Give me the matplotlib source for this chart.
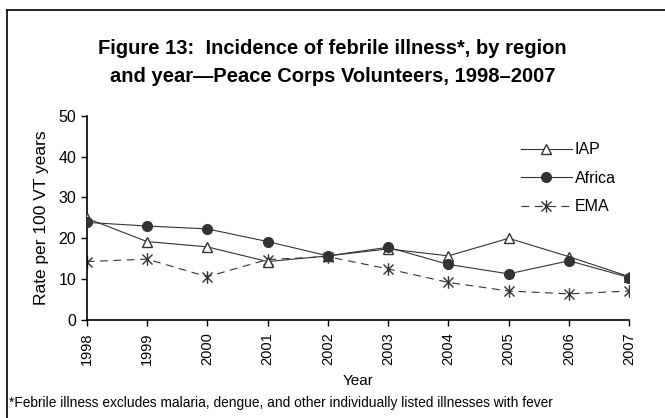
import matplotlib
matplotlib.use("Agg")
import matplotlib.pyplot as plt
from matplotlib.path import Path
from matplotlib.lines import Line2D

years = [1998, 1999, 2000, 2001, 2002, 2003, 2004, 2005, 2006, 2007]
iap = [24.9, 19.2, 17.9, 14.3, 15.7, 17.4, 15.7, 20.0, 15.5, 10.6]
africa = [23.9, 23.0, 22.3, 19.2, 15.7, 17.8, 13.6, 11.3, 14.5, 10.4]
ema = [14.3, 14.9, 10.6, 14.8, 15.5, 12.5, 9.2, 7.1, 6.4, 7.1]
yticks = [0, 10, 20, 30, 40, 50]

plt.rcParams['font.family'] = ['Liberation Sans', 'DejaVu Sans']

fig = plt.figure(figsize=(6.65, 4.18), dpi=100)
ax = fig.add_axes([0.1304, 0.2344, 0.9463 - 0.1304, 0.7232 - 0.2344])

# asterisk marker: vertical bar + X
star = Path([(0, -1), (0, 1), (-0.8, -0.8), (0.8, 0.8), (-0.8, 0.8), (0.8, -0.8)],
            [Path.MOVETO, Path.LINETO, Path.MOVETO, Path.LINETO, Path.MOVETO, Path.LINETO])

lc = '#333333'
ax.plot(years, iap, color=lc, lw=0.8, marker='^', ms=7, mfc='white', mec=lc, mew=1.0, label='IAP', zorder=3)
ax.plot(years, africa, color=lc, lw=0.8, marker='o', ms=7, mfc='#333333', mec='#333333', label='Africa', zorder=4)
ax.plot(years, ema, color=lc, lw=0.8, ls=(0, (7, 5)), marker=star, ms=9, mfc='none', mec=lc, mew=1.0, label='EMA', zorder=2)

ax.set_xlim(1998, 2007)
ax.set_ylim(0, 50)
ax.set_yticks(yticks)
ax.set_xticks(years)
ax.set_xticklabels([str(y) for y in years], rotation=90, fontsize=10.5)
ax.tick_params(axis='y', labelsize=11.5, direction='out', length=4, width=1)
ax.tick_params(axis='x', direction='out', length=4, width=1, pad=5)
for s in ['top', 'right']:
    ax.spines[s].set_visible(False)
for s in ['left', 'bottom']:
    ax.spines[s].set_linewidth(1.2)
ax.set_ylabel('Rate per 100 VT years', fontsize=12.5, labelpad=7)
ax.set_xlabel('Year', fontsize=11, labelpad=6)

leg = ax.legend(loc='upper left', bbox_to_anchor=(0.773, 0.94), frameon=False, fontsize=11.5,
                handlelength=3.2, handletextpad=0.2, labelspacing=0.85)

fig.text(0.5, 0.85, 'Figure 13:  Incidence of febrile illness*, by region\nand year\u2014Peace Corps Volunteers, 1998\u20132007',
         ha='center', va='center', fontsize=14.5, fontweight='bold', linespacing=1.6)

fig.text(0.014, 0.036, '*Febrile illness excludes malaria, dengue, and other individually listed illnesses with fever',
         ha='left', va='center', fontsize=9.9)

# border lines (top and left)
fig.add_artist(Line2D([0.0105, 1.0], [0.976, 0.976], color='black', lw=1.2, transform=fig.transFigure))
fig.add_artist(Line2D([0.0105, 0.0105], [0.0, 0.976], color='black', lw=1.2, transform=fig.transFigure))

fig.savefig('out.png', dpi=100)
